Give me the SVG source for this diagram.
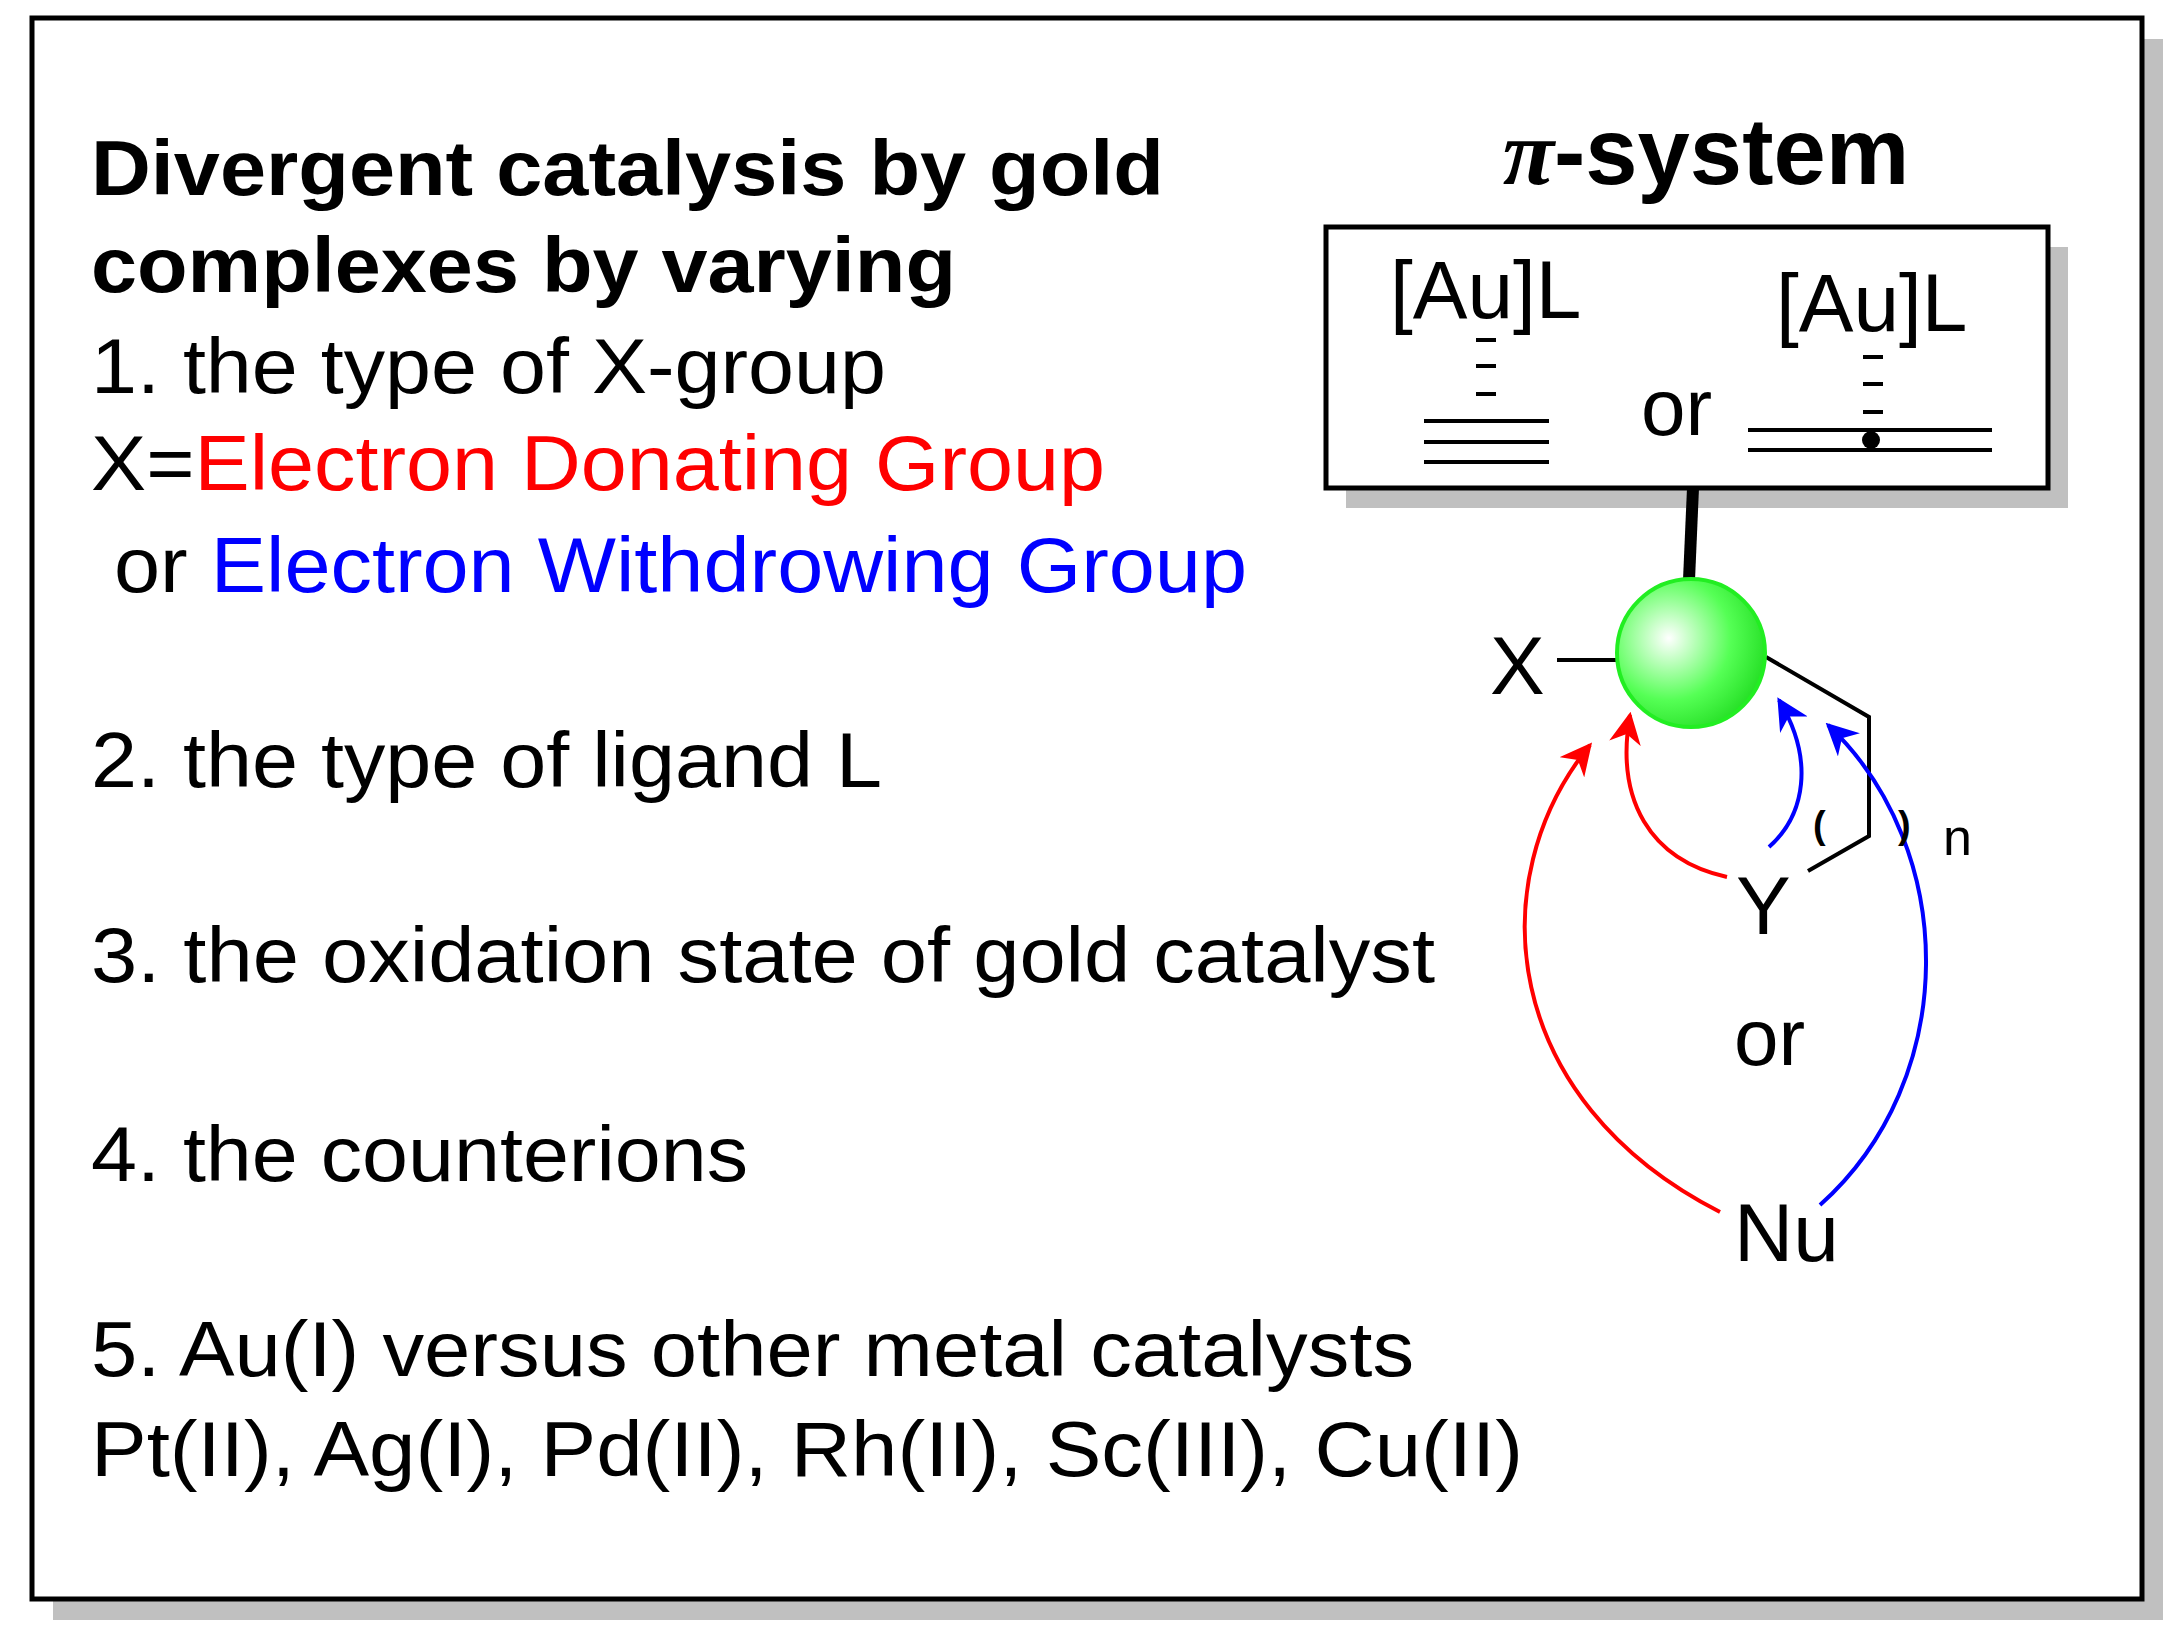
<svg xmlns="http://www.w3.org/2000/svg" width="2184" height="1643" viewBox="0 0 2184 1643">
<style>
text{font-family:"Liberation Sans",Arial,sans-serif;fill:#000}
.b{font-weight:bold;font-size:78px}
.r{font-size:78px}
.ln{stroke:#000;stroke-width:4;fill:none}
.ar{fill:none;stroke-width:4}
</style>
<defs>
<radialGradient id="g" cx="0.35" cy="0.4" r="0.7"><stop offset="0" stop-color="#fff"/><stop offset="0.6" stop-color="#5f5"/><stop offset="1" stop-color="#2d2"/></radialGradient>
<marker id="mr" viewBox="0 0 10 10" refX="9" refY="5" markerWidth="8" markerHeight="8" orient="auto"><path d="M0,0L10,5L0,10L3,5z" fill="#f00"/></marker>
<marker id="mb" viewBox="0 0 10 10" refX="9" refY="5" markerWidth="8" markerHeight="8" orient="auto"><path d="M0,0L10,5L0,10L3,5z" fill="#00f"/></marker>
</defs>
<rect width="2184" height="1643" fill="#fff"/>
<rect x="53" y="39" width="2110" height="1581" fill="#c0c0c0"/>
<rect x="32" y="18" width="2110" height="1581" fill="#fff" stroke="#000" stroke-width="5"/>
<g id="text">
<text class="b" x="91" y="195" textLength="1073" lengthAdjust="spacingAndGlyphs">Divergent catalysis by gold</text>
<text class="b" x="91" y="292" textLength="865" lengthAdjust="spacingAndGlyphs">complexes by varying</text>
<text class="r" x="91" y="393" textLength="795" lengthAdjust="spacingAndGlyphs">1. the type of X-group</text>
<text class="r" x="91" y="490" textLength="1014" lengthAdjust="spacingAndGlyphs">X=<tspan fill="#f00">Electron Donating Group</tspan></text>
<text class="r" x="114" y="592" textLength="1133" lengthAdjust="spacingAndGlyphs">or <tspan fill="#00f">Electron Withdrowing Group</tspan></text>
<text class="r" x="91" y="787" textLength="791" lengthAdjust="spacingAndGlyphs">2. the type of ligand L</text>
<text class="r" x="91" y="982" textLength="1344" lengthAdjust="spacingAndGlyphs">3. the oxidation state of gold catalyst</text>
<text class="r" x="91" y="1181" textLength="657" lengthAdjust="spacingAndGlyphs">4. the counterions</text>
<text class="r" x="91" y="1376" textLength="1323" lengthAdjust="spacingAndGlyphs">5. Au(I) versus other metal catalysts</text>
<text class="r" x="91" y="1476" textLength="1432" lengthAdjust="spacingAndGlyphs">Pt(II), Ag(I), Pd(II), Rh(II), Sc(III), Cu(II)</text>
</g>
<g id="pi-box">
<text x="1706" y="184" text-anchor="middle" font-size="94" font-weight="bold"><tspan font-family="Liberation Serif,serif" font-style="italic">π</tspan>-system</text>
<rect x="1346" y="247" width="722" height="261" fill="#c0c0c0"/>
<rect x="1326" y="227" width="722" height="261" fill="#fff" stroke="#000" stroke-width="5"/>
<text x="1390" y="318" font-size="82">[Au]L</text>
<text x="1776" y="331" font-size="82">[Au]L</text>
<text x="1641" y="435" font-size="80">or</text>
<path class="ln" d="M1476,340h20M1476,366h20M1476,394h20M1424,421h125M1424,442h125M1424,462h125"/>
<path class="ln" d="M1863,357h20M1863,384h20M1863,412h20M1748,430h244M1748,450h244"/>
<circle cx="1871" cy="440" r="9"/>
</g>
<g id="connectors">
<path d="M1693,488L1689,580" stroke="#000" stroke-width="12"/>
<path class="ln" d="M1557,660H1618M1766,657L1869,717V836L1808,871"/>
<path class="ar" stroke="#f00" marker-end="url(#mr)" d="M1727,877C1650,860 1615,800 1630,715"/>
<path class="ar" stroke="#00f" marker-end="url(#mb)" d="M1769,847C1805,815 1815,760 1779,700"/>
<path class="ar" stroke="#f00" marker-end="url(#mr)" d="M1720,1212C1500,1100 1480,880 1590,745"/>
<path class="ar" stroke="#00f" marker-end="url(#mb)" d="M1820,1205C1960,1080 1960,850 1828,725"/>
</g>
<g id="sphere"><circle cx="1691" cy="653" r="74" fill="url(#g)" stroke="#2e2" stroke-width="4"/></g>
<g id="labels">
<text x="1490" y="694" font-size="82">X</text>
<text x="1736" y="934" font-size="82">Y</text>
<text x="1813" y="838" font-size="38" font-weight="bold">(</text>
<text x="1898" y="838" font-size="38" font-weight="bold">)</text>
<text x="1943" y="855" font-size="52">n</text>
<text x="1734" y="1065" font-size="80">or</text>
<text x="1734" y="1261" font-size="82">Nu</text>
</g>
</svg>
